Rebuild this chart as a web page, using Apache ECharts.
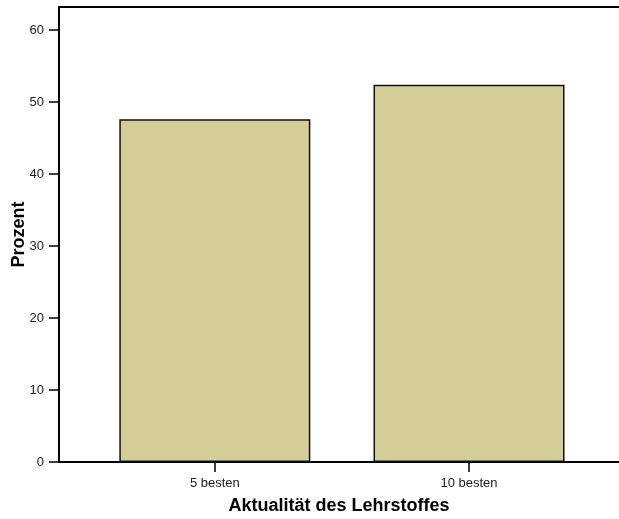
<!DOCTYPE html>
<html>
<head>
<meta charset="utf-8">
<script src="https://cdn.jsdelivr.net/npm/echarts@6/dist/echarts.min.js"></script>
<style>
html,body{margin:0;padding:0;background:#fff;}
#chart{width:619px;height:519px;}
</style>
</head>
<body>
<div id="chart"></div>
<script>
var categories = ['5 besten', '10 besten'];
var values = [47.6, 52.4];
var yTicks = [0, 10, 20, 30, 40, 50, 60];
var xPositions = [1, 2];

var chart = echarts.init(document.getElementById('chart'));
var font = 'Arial, "Liberation Sans", Helvetica, sans-serif';
chart.setOption({
  animation: false,
  backgroundColor: '#ffffff',
  grid: {left: 59, right: 0, top: 7, bottom: 57, containLabel: false, outerBoundsMode: 'none'},
  xAxis: [{
    type: 'value',
    min: 0.387,
    max: 2.59,
    splitLine: {show: false},
    axisLine: {show: true, onZero: false, lineStyle: {color: '#000', width: 2}},
    axisTick: {show: true, length: 10, lineStyle: {color: '#000', width: 1.5}, customValues: xPositions},
    axisLabel: {
      customValues: xPositions,
      margin: 15,
      fontSize: 13,
      fontFamily: font,
      color: '#222',
      formatter: function (v) { return categories[Math.round(v) - 1] || ''; }
    },
    name: 'Aktualität des Lehrstoffes',
    nameLocation: 'middle',
    nameGap: 35,
    nameMoveOverlap: false,
    nameTextStyle: {fontSize: 18, fontWeight: 'bold', fontFamily: font, color: '#000'}
  }, {
    type: 'value',
    position: 'top',
    min: 0.387,
    max: 2.59,
    splitLine: {show: false},
    axisLine: {show: true, onZero: false, lineStyle: {color: '#000', width: 2}},
    axisTick: {show: false},
    axisLabel: {show: false}
  }],
  yAxis: {
    type: 'value',
    min: 0,
    max: 63.2,
    splitLine: {show: false},
    axisLine: {show: true, lineStyle: {color: '#000', width: 2}},
    axisTick: {show: true, length: 10, lineStyle: {color: '#000', width: 1.5}, customValues: yTicks},
    axisLabel: {customValues: yTicks, margin: 15, fontSize: 13, fontFamily: font, color: '#222'},
    name: 'Prozent',
    nameLocation: 'middle',
    nameRotate: 90,
    nameGap: 31,
    nameMoveOverlap: false,
    nameTextStyle: {fontSize: 18, fontWeight: 'bold', fontFamily: font, color: '#000'}
  },
  series: [{
    type: 'bar',
    xAxisIndex: 0,
    barWidth: 191,
    data: xPositions.map(function (x, i) { return [x, values[i]]; }),
    itemStyle: {color: '#d3ce98', borderColor: '#111', borderWidth: 1.5}
  }]
});
</script>
</body>
</html>
